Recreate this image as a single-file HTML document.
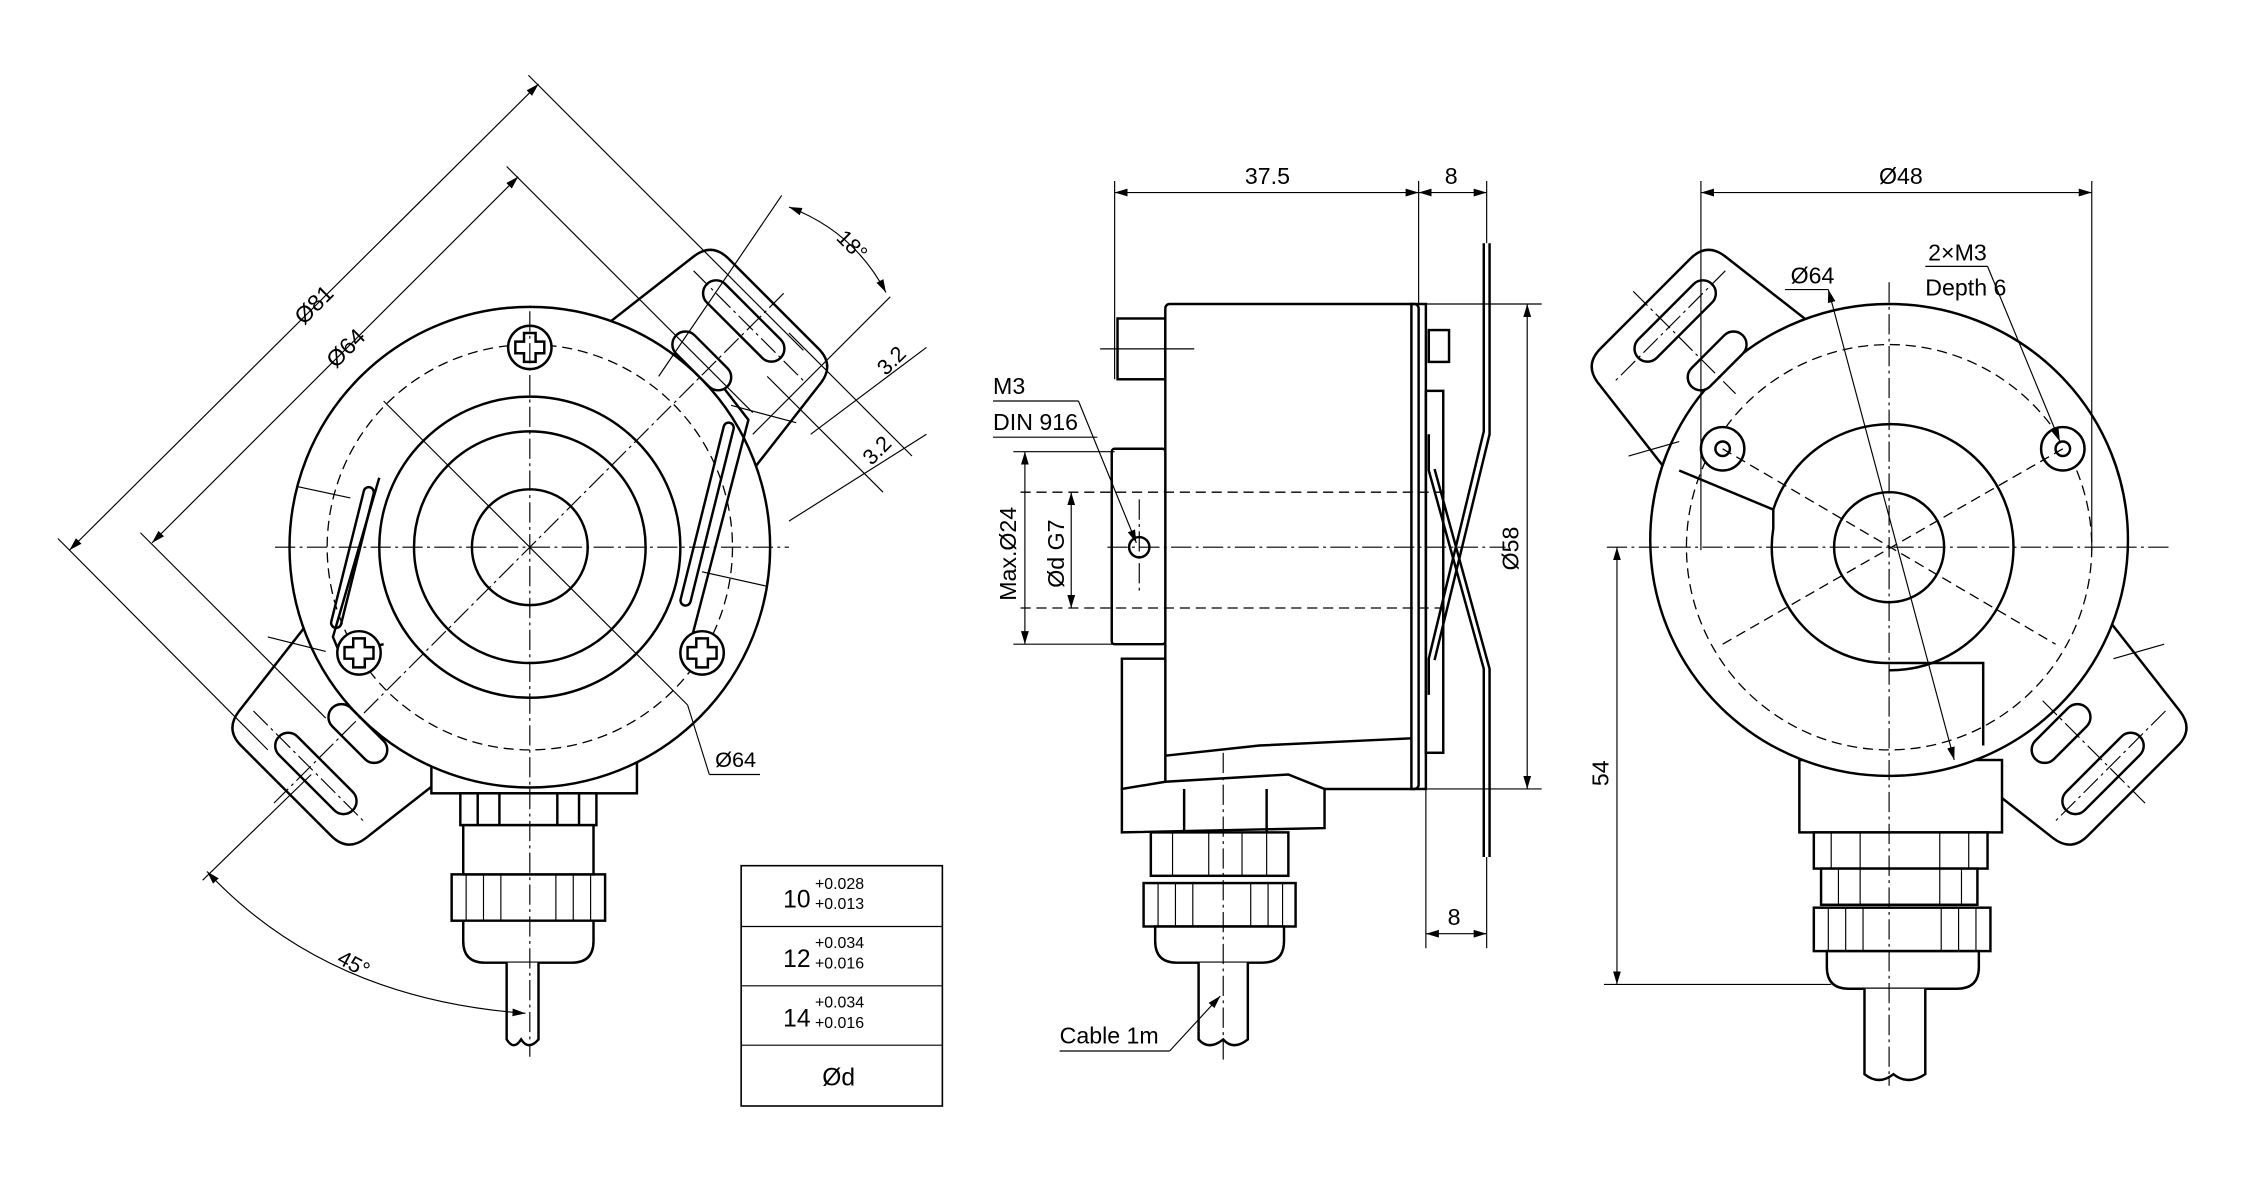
<!DOCTYPE html>
<html><head><meta charset="utf-8"><style>
html,body{margin:0;padding:0;background:#fff}
svg{display:block}
text{font-family:"Liberation Sans Narrow","Liberation Sans",sans-serif;fill:#000}
.o{fill:none;stroke:#000;stroke-width:1.7}
.w{fill:#fff;stroke:#000;stroke-width:1.7}
.t{fill:none;stroke:#000;stroke-width:0.8}
.c{fill:none;stroke:#000;stroke-width:0.8;stroke-dasharray:14 3 2 3}
.d{fill:none;stroke:#000;stroke-width:0.9;stroke-dasharray:7 4}
</style></head><body>
<svg width="2251" height="1182" viewBox="0 0 1555 816.5" preserveAspectRatio="none" xmlns="http://www.w3.org/2000/svg">
<defs>
<marker id="a" viewBox="0 0 10 10" refX="10" refY="5" markerWidth="9" markerHeight="9" orient="auto-start-reverse" markerUnits="userSpaceOnUse"><path d="M0,2 L10,5 L0,8 z" fill="#000"/></marker>
</defs>

<!-- ============ LEFT VIEW ============ -->
<g>
 <g transform="translate(366 378) rotate(-45)">
  <path class="w" d="M140,-72 L222,-62 Q238,-60 238,-44 L238,44 Q238,60 222,62 L140,72 Z"/>
  <path class="w" d="M-140,-72 L-222,-62 Q-238,-60 -238,-44 L-238,44 Q-238,60 -222,62 L-140,72 Z"/>
 </g>
 <!-- connector -->
 <rect class="w" x="298" y="520" width="142" height="28"/>
 <rect class="w" x="318" y="548" width="94" height="22"/>
 <line class="o" x1="330" y1="548" x2="330" y2="570"/><line class="o" x1="345" y1="548" x2="345" y2="570"/><line class="o" x1="385" y1="548" x2="385" y2="570"/><line class="o" x1="400" y1="548" x2="400" y2="570"/>
 <rect class="w" x="312" y="604" width="106" height="32"/>
 <g class="t"><line x1="322" y1="604" x2="322" y2="636"/><line x1="334" y1="604" x2="334" y2="636"/><line x1="346" y1="604" x2="346" y2="636"/><line x1="384" y1="604" x2="384" y2="636"/><line x1="396" y1="604" x2="396" y2="636"/><line x1="408" y1="604" x2="408" y2="636"/></g>
 <path class="w" d="M320,570 L410,570 L410,604 L320,604 Z"/>
 <path class="w" d="M320,636 L410,636 L410,650 Q410,665 395,665 L335,665 Q320,665 320,650 Z"/>
 <path class="w" d="M350,665 L350,718 Q355,726 360,718 Q365,726 372,718 L372,665"/>
 <!-- body -->
 <circle class="w" cx="366" cy="378" r="166"/>
 <circle class="d" cx="366" cy="378" r="140" stroke-dasharray="8 3 2 3"/>
 <path class="o" d="M500,268 L517,290 L478,440 L470,455"/>
 <path class="o" d="M265,445 L235,452 L230,440 L262,330"/>
 <rect class="o" x="485" y="290" width="7" height="130" rx="3.5" transform="rotate(14 488 355)"/>
 <rect class="o" x="240" y="335" width="7" height="100" rx="3.5" transform="rotate(14 243 385)"/>
 <line class="t" x1="205" y1="336" x2="242" y2="344"/>
 <line class="t" x1="185" y1="440" x2="225" y2="450"/>
 <line class="t" x1="505" y1="280" x2="550" y2="292"/>
 <line class="t" x1="485" y1="395" x2="530" y2="405"/>
 <circle class="o" cx="366" cy="378" r="104"/>
 <circle class="o" cx="366" cy="378" r="80"/>
 <circle class="o" cx="366" cy="378" r="40"/>
 <!-- slots -->
 <g transform="translate(366 378) rotate(-45)">
  <rect class="w" x="206" y="-42" width="18" height="72" rx="9"/>
  <rect class="w" x="166" y="-32" width="18" height="50" rx="9"/>
  <rect class="w" x="-224" y="-30" width="18" height="72" rx="9"/>
  <rect class="w" x="-184" y="-18" width="18" height="50" rx="9"/>
  <line class="c" x1="-250" y1="0" x2="250" y2="0"/>
  <line class="c" x1="215" y1="-55" x2="215" y2="55"/>
  <line class="c" x1="-215" y1="-55" x2="-215" y2="55"/>
 </g>
 <!-- screws -->
 <g id="scr">
  <circle class="w" cx="366" cy="240" r="15" stroke-width="2.4"/>
  <path class="o" d="M362,230 h8 v6 h6 v8 h-6 v6 h-8 v-6 h-6 v-8 h6 z"/>
 </g>
 <use href="#scr" transform="translate(-118 211)"/>
 <use href="#scr" transform="translate(119 211)"/>
 <!-- centerlines -->
 <line class="c" x1="190" y1="378" x2="545" y2="378"/>
 <line class="c" x1="366" y1="215" x2="366" y2="730"/>
 <line class="t" x1="265" y1="277" x2="475" y2="487"/>
 <line class="t" x1="475" y1="487" x2="490" y2="535"/><line class="t" x1="490" y1="535" x2="525" y2="535"/>
 <text x="494" y="530" font-size="15">Ø64</text>
 <!-- Ø81 / Ø64 dims -->
 <line class="t" x1="48" y1="380" x2="372" y2="58" marker-start="url(#a)" marker-end="url(#a)"/>
 <line class="t" x1="105" y1="375" x2="358" y2="122" marker-start="url(#a)" marker-end="url(#a)"/>
 <line class="t" x1="40" y1="372" x2="185" y2="518"/>
 <line class="t" x1="97" y1="368" x2="225" y2="496"/>
 <line class="t" x1="365" y1="52" x2="555" y2="242"/>
 <line class="t" x1="350" y1="115" x2="520" y2="285"/>
 <text transform="translate(210 225) rotate(-45)" font-size="16">Ø81</text>
 <text transform="translate(232 255) rotate(-45)" font-size="16">Ø64</text>
 <!-- 18 deg -->
 <line class="t" x1="540" y1="135" x2="455" y2="260"/>
 <line class="t" x1="615" y1="205" x2="520" y2="300"/>
 <path class="t" d="M545,143 Q590,160 612,202" marker-start="url(#a)" marker-end="url(#a)"/>
 <text transform="translate(577 165) rotate(45)" font-size="15">18°</text>
 <!-- 3.2 dims -->
 <line class="t" x1="530" y1="260" x2="610" y2="340"/>
 <line class="t" x1="545" y1="230" x2="630" y2="315"/>
 <line class="t" x1="640" y1="240" x2="560" y2="300" />
 <line class="t" x1="640" y1="300" x2="545" y2="360"/>
 <text transform="translate(612 260) rotate(-45)" font-size="15">3.2</text>
 <text transform="translate(602 322) rotate(-45)" font-size="15">3.2</text>
 <!-- 45 deg -->
 <line class="t" x1="140" y1="608" x2="215" y2="535"/>
 <path class="t" d="M143,602 Q225,690 363,700" marker-start="url(#a)" marker-end="url(#a)"/>
 <text transform="translate(232 665) rotate(28)" font-size="15">45°</text>
</g>

<!-- table -->
<g>
 <rect x="512" y="598" width="139" height="166" fill="none" stroke="#000" stroke-width="1.1"/>
 <line class="t" x1="512" y1="640" x2="651" y2="640" stroke-width="1.1"/>
 <line class="t" x1="512" y1="681" x2="651" y2="681" stroke-width="1.1"/>
 <line class="t" x1="512" y1="722" x2="651" y2="722" stroke-width="1.1"/>
 <text x="541" y="627" font-size="17">10</text><text x="563" y="614" font-size="11">+0.028</text><text x="563" y="628" font-size="11">+0.013</text>
 <text x="541" y="668" font-size="17">12</text><text x="563" y="655" font-size="11">+0.034</text><text x="563" y="669" font-size="11">+0.016</text>
 <text x="541" y="709" font-size="17">14</text><text x="563" y="696" font-size="11">+0.034</text><text x="563" y="710" font-size="11">+0.016</text>
 <text x="568" y="750" font-size="17">Ød</text>
</g>

<!-- ============ MIDDLE VIEW ============ -->
<g>
 <rect class="w" x="772" y="220" width="33" height="42"/>
 <rect class="w" x="805" y="210" width="175" height="335" rx="3"/>
 <rect class="o" x="975" y="210" width="10" height="335"/>
 <rect class="w" x="768" y="310" width="37" height="135" rx="2"/>
 <circle class="o" cx="787" cy="378" r="7"/>
 <path class="w" d="M775,455 L805,455 L805,545 L775,545 Z"/>
 <path class="o" d="M805,522 L870,515 L975,510"/>
 <path class="w" d="M775,545 L805,540 L890,535 L915,545 L915,572 L775,575 Z"/>
 <line class="o" x1="818" y1="545" x2="818" y2="575"/><line class="o" x1="875" y1="545" x2="875" y2="575"/>
 <rect class="w" x="795" y="575" width="95" height="30"/>
 <g class="t"><line x1="810" y1="575" x2="810" y2="605"/><line x1="835" y1="575" x2="835" y2="605"/><line x1="858" y1="575" x2="858" y2="605"/><line x1="875" y1="575" x2="875" y2="605"/></g>
 <rect class="w" x="790" y="610" width="105" height="30"/>
 <g class="t"><line x1="800" y1="610" x2="800" y2="640"/><line x1="812" y1="610" x2="812" y2="640"/><line x1="824" y1="610" x2="824" y2="640"/><line x1="864" y1="610" x2="864" y2="640"/><line x1="876" y1="610" x2="876" y2="640"/><line x1="886" y1="610" x2="886" y2="640"/></g>
 <path class="w" d="M798,640 L887,640 L887,650 Q887,665 872,665 L813,665 Q798,665 798,650 Z"/>
 <path class="w" d="M828,665 L828,718 Q835,726 845,718 Q852,726 862,718 L862,665"/>
 <rect class="w" x="987" y="228" width="14" height="22"/>
 <rect class="o" x="985" y="270" width="12" height="250"/>
 <path class="o" d="M1025,168 L1025,298 L987,455 L987,480 M1029,168 L1029,300 L991,456"/>
 <path class="o" d="M987,300 L987,325 L1025,462 L1025,592 M991,324 L1029,462 L1029,592"/>
 <line class="c" x1="765" y1="378" x2="1040" y2="378"/>
 <line class="c" x1="845" y1="520" x2="845" y2="735"/>
 <line class="c" x1="787" y1="345" x2="787" y2="410"/>
 <line class="d" x1="705" y1="340" x2="1000" y2="340"/>
 <line class="d" x1="705" y1="420" x2="1000" y2="420"/>
 <line class="t" x1="760" y1="241" x2="825" y2="241"/>
 <line class="t" x1="770" y1="125" x2="770" y2="262"/>
 <line class="t" x1="980" y1="125" x2="980" y2="210"/>
 <line class="t" x1="1027" y1="125" x2="1027" y2="168"/>
 <line class="t" x1="770" y1="133" x2="980" y2="133" marker-start="url(#a)" marker-end="url(#a)"/>
 <line class="t" x1="980" y1="133" x2="1027" y2="133" marker-start="url(#a)" marker-end="url(#a)"/>
 <text x="860" y="127" font-size="16">37.5</text>
 <text x="998" y="127" font-size="16">8</text>
 <line class="t" x1="985" y1="210" x2="1065" y2="210"/>
 <line class="t" x1="985" y1="545" x2="1065" y2="545"/>
 <line class="t" x1="1055" y1="210" x2="1055" y2="545" marker-start="url(#a)" marker-end="url(#a)"/>
 <text transform="translate(1049 394) rotate(-90)" font-size="16">Ø58</text>
 <line class="t" x1="985" y1="545" x2="985" y2="655"/>
 <line class="t" x1="1027" y1="592" x2="1027" y2="655"/>
 <line class="t" x1="985" y1="645" x2="1027" y2="645" marker-start="url(#a)" marker-end="url(#a)"/>
 <text x="1000" y="639" font-size="16">8</text>
 <line class="t" x1="700" y1="312" x2="770" y2="312"/>
 <line class="t" x1="700" y1="445" x2="770" y2="445"/>
 <line class="t" x1="708" y1="312" x2="708" y2="445" marker-start="url(#a)" marker-end="url(#a)"/>
 <line class="t" x1="740" y1="340" x2="740" y2="420" marker-start="url(#a)" marker-end="url(#a)"/>
 <text transform="translate(702 415) rotate(-90)" font-size="16">Max.Ø24</text>
 <text transform="translate(735 406) rotate(-90)" font-size="16">Ød G7</text>
 <text x="686" y="272" font-size="16">M3</text>
 <text x="686" y="297" font-size="16">DIN 916</text>
 <line class="t" x1="686" y1="277" x2="745" y2="277"/>
 <line class="t" x1="686" y1="302" x2="758" y2="302"/>
 <line class="t" x1="745" y1="277" x2="785" y2="375" marker-end="url(#a)"/>
 <text x="732" y="721" font-size="16">Cable 1m</text>
 <line class="t" x1="732" y1="726" x2="808" y2="726"/>
 <line class="t" x1="808" y1="726" x2="843" y2="688" marker-end="url(#a)"/>
</g>

<!-- ============ RIGHT VIEW ============ -->
<g>
 <g transform="translate(1305 378) rotate(45)">
  <path class="w" d="M-140,-72 L-222,-62 Q-238,-60 -238,-44 L-238,44 Q-238,60 -222,62 L-140,72 Z"/>
  <path class="w" d="M140,-72 L222,-62 Q238,-60 238,-44 L238,44 Q238,60 222,62 L140,72 Z"/>
 </g>
 <rect class="w" x="1243" y="525" width="140" height="50"/>
 <rect class="w" x="1253" y="575" width="120" height="25"/>
 <g class="t"><line x1="1265" y1="575" x2="1265" y2="600"/><line x1="1285" y1="575" x2="1285" y2="600"/><line x1="1340" y1="575" x2="1340" y2="600"/><line x1="1360" y1="575" x2="1360" y2="600"/></g>
 <rect class="w" x="1258" y="600" width="108" height="25"/>
 <g class="t"><line x1="1270" y1="600" x2="1270" y2="625"/><line x1="1285" y1="600" x2="1285" y2="625"/><line x1="1340" y1="600" x2="1340" y2="625"/><line x1="1355" y1="600" x2="1355" y2="625"/></g>
 <rect class="w" x="1253" y="627" width="122" height="30"/>
 <g class="t"><line x1="1263" y1="627" x2="1263" y2="657"/><line x1="1275" y1="627" x2="1275" y2="657"/><line x1="1287" y1="627" x2="1287" y2="657"/><line x1="1341" y1="627" x2="1341" y2="657"/><line x1="1353" y1="627" x2="1353" y2="657"/><line x1="1365" y1="627" x2="1365" y2="657"/></g>
 <path class="w" d="M1262,657 L1367,657 L1367,668 Q1367,683 1352,683 L1277,683 Q1262,683 1262,668 Z"/>
 <path class="w" d="M1288,683 L1288,742 Q1298,750 1308,742 Q1318,750 1330,742 L1330,683"/>
 <ellipse class="w" cx="1305" cy="373" rx="165" ry="163"/>
 <circle class="d" cx="1305" cy="378" r="140" stroke-dasharray="8 3 2 3"/>
 <path class="o" d="M1160,325 L1225,352 L1225,365 A80,80 0 0 0 1305,458 L1370,458 L1370,515"/>
 <path class="o" d="M1225,352 A85,85 0 1 1 1305,463"/>
 <circle class="o" cx="1305" cy="378" r="38"/>
 <circle class="w" cx="1190" cy="310" r="15"/><circle class="o" cx="1190" cy="310" r="5"/>
 <circle class="w" cx="1425" cy="310" r="15"/><circle class="o" cx="1425" cy="310" r="5"/>
 <line class="t" x1="1125" y1="315" x2="1160" y2="305"/>
 <line class="t" x1="1460" y1="455" x2="1495" y2="445"/>
 <g transform="translate(1305 378) rotate(45)">
  <rect class="w" x="-224" y="-42" width="18" height="72" rx="9"/>
  <rect class="w" x="-184" y="-32" width="18" height="50" rx="9"/>
  <rect class="w" x="206" y="-30" width="18" height="72" rx="9"/>
  <rect class="w" x="166" y="-18" width="18" height="50" rx="9"/>
  <line class="c" x1="-215" y1="-55" x2="-215" y2="55"/>
  <line class="c" x1="215" y1="-55" x2="215" y2="55"/>
  <line class="c" x1="-250" y1="0" x2="-150" y2="0"/>
  <line class="c" x1="150" y1="0" x2="250" y2="0"/>
 </g>
 <line class="c" x1="1110" y1="378" x2="1500" y2="378"/>
 <line class="c" x1="1305" y1="195" x2="1305" y2="750"/>
 <line class="d" x1="1190" y1="310" x2="1420" y2="445"/>
 <line class="d" x1="1425" y1="310" x2="1190" y2="445"/>
 <line class="t" x1="1175" y1="125" x2="1175" y2="380"/>
 <line class="t" x1="1445" y1="125" x2="1445" y2="380"/>
 <line class="t" x1="1175" y1="133" x2="1445" y2="133" marker-start="url(#a)" marker-end="url(#a)"/>
 <text x="1298" y="127" font-size="16">Ø48</text>
 <text x="1237" y="196" font-size="16">Ø64</text>
 <line class="t" x1="1233" y1="200" x2="1263" y2="200"/>
 <line class="t" x1="1263" y1="200" x2="1350" y2="525" marker-start="url(#a)" marker-end="url(#a)"/>
 <text x="1332" y="180" font-size="16">2×M3</text>
 <text x="1330" y="204" font-size="16">Depth 6</text>
 <line class="t" x1="1330" y1="184" x2="1373" y2="184"/>
 <line class="t" x1="1373" y1="184" x2="1423" y2="305" marker-end="url(#a)"/>
 <line class="t" x1="1108" y1="680" x2="1265" y2="680"/>
 <line class="t" x1="1117" y1="378" x2="1117" y2="680" marker-start="url(#a)" marker-end="url(#a)"/>
 <text transform="translate(1111 543) rotate(-90)" font-size="16">54</text>
</g>
</svg>
</body></html>
